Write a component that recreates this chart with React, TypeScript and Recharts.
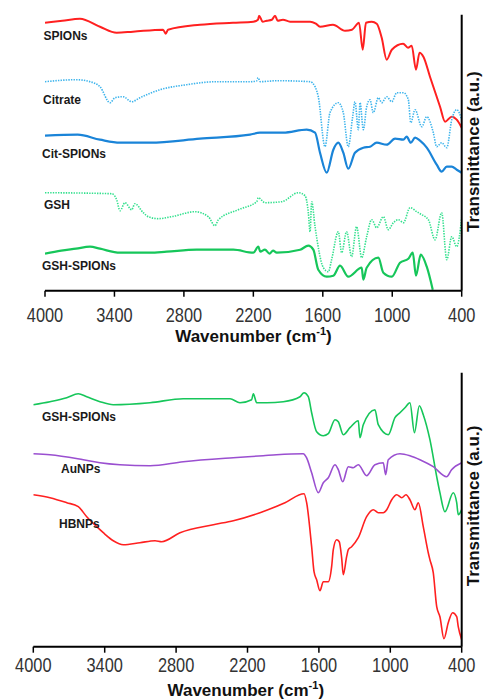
import React from 'react';
import { LineChart, Line, XAxis, YAxis } from 'recharts';

const TICKS = [4000, 3400, 2800, 2200, 1600, 1000, 400];

// Panel A
const spionsWn = [4000, 3850, 3698, 3525, 3381, 3240, 2980, 2957, 2937, 2661, 2376, 2200, 2160, 2150, 2120, 2085, 2040, 2013, 1990, 1944, 1883, 1710, 1660, 1624, 1512, 1408, 1348, 1287, 1255, 1227, 1177, 1134, 1091, 1048, 1004, 906, 864, 832, 795, 764, 731, 674, 587, 544, 486, 443, 400];
const spionsT = [268, 270, 272, 264, 258, 259, 261, 257, 261, 266, 268, 269, 271, 275, 269, 270, 271, 275, 270, 271, 269, 269, 267, 264, 266, 260, 261, 268, 241, 268, 269, 267, 253, 231, 241, 247, 243, 245, 221, 238, 234, 214, 184, 169, 174, 171, 163];

const citrateWn = [4000, 3726, 3611, 3525, 3438, 3395, 3326, 3251, 3179, 3006, 2776, 2517, 2229, 2170, 2160, 2140, 1998, 1710, 1667, 1639, 1581, 1538, 1466, 1423, 1380, 1342, 1322, 1293, 1278, 1250, 1221, 1192, 1164, 1120, 1091, 1048, 1004, 961, 904, 861, 840, 803, 745, 702, 645, 616, 573, 529, 486, 443, 400];
const citrateT = [209, 211, 209, 204, 188, 193, 194, 189, 193, 201, 206, 209, 209, 210, 213, 209, 210, 209, 204, 194, 144, 178, 188, 178, 144, 174, 189, 161, 188, 161, 184, 191, 178, 193, 188, 194, 189, 198, 198, 191, 168, 181, 164, 174, 158, 144, 148, 143, 171, 181, 171];

const citSpionsWn = [4000, 3717, 3525, 3352, 3093, 2661, 2229, 2143, 1941, 1739, 1667, 1624, 1566, 1509, 1466, 1423, 1380, 1322, 1250, 1192, 1134, 1048, 976, 904, 875, 840, 803, 760, 702, 616, 573, 529, 486, 443, 400];
const citSpionsT = [155, 156, 151, 148, 148, 152, 156, 158, 158, 161, 158, 138, 118, 141, 148, 138, 122, 138, 143, 144, 148, 146, 152, 151, 154, 148, 153, 150, 143, 126, 119, 124, 124, 121, 118];

const gshWn = [4000, 3424, 3381, 3352, 3309, 3251, 3223, 3151, 3108, 3021, 2906, 2704, 2589, 2531, 2502, 2330, 2171, 2157, 2099, 1955, 1811, 1753, 1725, 1710, 1696, 1667, 1595, 1552, 1524, 1466, 1437, 1394, 1351, 1308, 1264, 1221, 1178, 1134, 1077, 1034, 990, 947, 904, 846, 788, 745, 688, 630, 573, 529, 486, 443, 400];
const gshT = [98, 97, 91, 80, 88, 81, 87, 78, 74, 72, 74, 79, 74, 65, 71, 81, 89, 93, 88, 89, 98, 95, 78, 59, 89, 64, 23, 19, 31, 59, 38, 59, 34, 64, 33, 54, 71, 63, 74, 61, 68, 71, 68, 83, 79, 76, 71, 51, 78, 31, 54, 44, 73];

const gshSpionsAWn = [4000, 3860, 3732, 3611, 3525, 3352, 3093, 2949, 2690, 2373, 2200, 2157, 2140, 2100, 2060, 2030, 1998, 1796, 1725, 1682, 1639, 1566, 1509, 1451, 1380, 1264, 1250, 1221, 1120, 1077, 1004, 933, 861, 823, 795, 754, 702, 650];
const gshSpionsAT = [37, 40, 42, 44, 42, 38, 38, 39, 41, 41, 38, 44, 39, 41, 37, 40, 38, 41, 45, 41, 21, 14, 15, 25, 14, 23, 11, 23, 33, 18, 14, 28, 32, 38, 15, 36, 24, 1];

// Panel B
const gshSpionsBWn = [4000, 3860, 3719, 3622, 3551, 3440, 3328, 3019, 2740, 2347, 2263, 2165, 2151, 2123, 2039, 1899, 1759, 1725, 1689, 1661, 1619, 1563, 1521, 1465, 1437, 1395, 1339, 1269, 1255, 1227, 1129, 1101, 1017, 961, 919, 877, 835, 797, 756, 723, 667, 610, 583, 541, 471, 442, 429, 400];
const gshSpionsBT = [242, 245, 249, 253, 250, 245, 242, 244, 248, 248, 244, 247, 253, 244, 244, 245, 250, 254, 250, 234, 215, 211, 213, 227, 225, 212, 219, 226, 209, 222, 237, 222, 212, 229, 234, 239, 244, 214, 241, 232, 207, 170, 154, 135, 154, 144, 132, 137];

const auNpsWn = [4000, 3860, 3580, 3440, 3272, 3019, 2740, 2320, 2068, 1956, 1732, 1704, 1661, 1605, 1563, 1521, 1465, 1437, 1400, 1353, 1311, 1269, 1199, 1129, 1059, 1039, 1017, 919, 835, 751, 639, 527, 485, 400];
const auNpsT = [193, 192, 187, 184, 182, 181, 185, 189, 191, 192, 193, 189, 174, 154, 164, 169, 182, 177, 165, 180, 179, 182, 171, 182, 184, 172, 187, 193, 191, 187, 180, 170, 177, 184];

const hbnpsWn = [4000, 3860, 3719, 3622, 3551, 3467, 3412, 3328, 3244, 3104, 2977, 2921, 2767, 2487, 2319, 2095, 1885, 1725, 1703, 1661, 1641, 1619, 1591, 1563, 1521, 1493, 1479, 1451, 1429, 1409, 1395, 1367, 1353, 1325, 1269, 1199, 1143, 1101, 1059, 1030, 988, 946, 904, 868, 835, 793, 765, 723, 681, 667, 639, 610, 583, 549, 513, 476, 442, 429, 400];
const hbnpsT = [152, 149, 144, 140, 130, 120, 114, 106, 102, 104, 106, 105, 114, 122, 126, 134, 144, 153, 144, 100, 75, 67, 56, 65, 65, 80, 97, 107, 105, 89, 72, 90, 97, 100, 109, 130, 137, 134, 134, 137, 147, 152, 149, 152, 147, 137, 144, 120, 94, 87, 74, 40, 30, 8, 24, 34, 30, 20, 7];

const toData = (wn: number[], t: number[]) => wn.map((w, i) => ({ w, t: t[i] }));

const FONT = 'Liberation Sans, Arial, sans-serif';

const Tick = (props: any) => {
  const { x, y, payload } = props;
  return (
    <g transform={`translate(${x},${y})`}>
      <text x={0} y={0} dy="0.71em" textAnchor="middle" fontSize={20} fill="#333" fontFamily={FONT} transform="scale(0.82,1)">
        {payload.value}
      </text>
    </g>
  );
};

type S = { wn: number[]; t: number[]; color: string; width: number; dash?: string };

const panelA: S[] = [
  { wn: spionsWn, t: spionsT, color: '#ff2020', width: 2 },
  { wn: citrateWn, t: citrateT, color: '#3db4ec', width: 1.6, dash: '1.4 1.2' },
  { wn: citSpionsWn, t: citSpionsT, color: '#1a84d8', width: 2.2 },
  { wn: gshWn, t: gshT, color: '#33e08e', width: 1.6, dash: '1.4 1.2' },
  { wn: gshSpionsAWn, t: gshSpionsAT, color: '#16c65a', width: 2.2 },
];

const panelB: S[] = [
  { wn: gshSpionsBWn, t: gshSpionsBT, color: '#16c65a', width: 1.6 },
  { wn: auNpsWn, t: auNpsT, color: '#9a4fd0', width: 1.6 },
  { wn: hbnpsWn, t: hbnpsT, color: '#ff2020', width: 1.6 },
];

function Panel({ series, margin, yMax, tickMargin }: { series: S[]; margin: any; yMax: number; tickMargin: number }) {
  return (
    <LineChart width={483} height={350} margin={margin}>
      <XAxis
        dataKey="w"
        type="number"
        domain={[400, 4000]}
        reversed
        ticks={TICKS}
        allowDataOverflow
        height={40}
        axisLine={{ stroke: '#000', strokeWidth: 2 }}
        tickLine={{ stroke: '#000', strokeWidth: 1.5 }}
        tickSize={6}
        tickMargin={tickMargin}
        tick={<Tick />}
        interval={0}
      />
      <YAxis
        orientation="right"
        type="number"
        domain={[0, yMax]}
        allowDataOverflow
        width={21.3}
        tick={false}
        tickLine={false}
        axisLine={{ stroke: '#000', strokeWidth: 2 }}
      />
      {series.map((s, i) => (
        <Line
          key={i}
          data={toData(s.wn, s.t)}
          dataKey="t"
          type="monotone"
          stroke={s.color}
          strokeWidth={s.width}
          strokeDasharray={s.dash}
          strokeLinejoin="round"
          dot={false}
          activeDot={false}
          isAnimationActive={false}
        />
      ))}
    </LineChart>
  );
}

const labelsA = [
  { text: 'SPIONs', x: 43.5, y: 39.6 },
  { text: 'Citrate', x: 43, y: 103.8 },
  { text: 'Cit-SPIONs', x: 42, y: 157.6 },
  { text: 'GSH', x: 44, y: 209.1 },
  { text: 'GSH-SPIONs', x: 42, y: 270.1 },
];
const labelsB = [
  { text: 'GSH-SPIONs', x: 42, y: 421 },
  { text: 'AuNPs', x: 61, y: 473.1 },
  { text: 'HBNPs', x: 59, y: 528.1 },
];

export default function App() {
  return (
    <div style={{ position: 'absolute', left: 0, top: 0, width: 483, height: 700, background: '#fff', overflow: 'hidden' }}>
      <div style={{ position: 'absolute', left: 0, top: 0 }}>
        <Panel series={panelA} margin={{ top: 14.7, right: 0, left: 45, bottom: 19.3 }} yMax={276} tickMargin={10.6} />
      </div>
      <div style={{ position: 'absolute', left: 0, top: 350 }}>
        <Panel series={panelB} margin={{ top: 22.7, right: 0, left: 33.3, bottom: 13.3 }} yMax={274} tickMargin={5} />
      </div>
      <svg width={483} height={700} style={{ position: 'absolute', left: 0, top: 0, pointerEvents: 'none' }}>
        {[...labelsA, ...labelsB].map((l, i) => (
          <text key={i} x={l.x} y={l.y} fontSize={12} fontWeight="bold" fill="#1a1a1a" fontFamily={FONT}>
            {l.text}
          </text>
        ))}
        <text x={253.5} y={341.5} textAnchor="middle" fontSize={17} fontWeight="bold" fill="#111" fontFamily={FONT}>
          Wavenumber (cm<tspan fontSize={11} dy={-7}>-1</tspan><tspan dy={7}>)</tspan>
        </text>
        <text x={245.8} y={695.5} textAnchor="middle" fontSize={17} fontWeight="bold" fill="#111" fontFamily={FONT}>
          Wavenumber (cm<tspan fontSize={11} dy={-7}>-1</tspan><tspan dy={7}>)</tspan>
        </text>
        <text transform="translate(478.5,151.7) rotate(-90)" textAnchor="middle" fontSize={17} fontWeight="bold" fill="#111" fontFamily={FONT}>
          Transmittance (a.u.)
        </text>
        <text transform="translate(478.5,506) rotate(-90)" textAnchor="middle" fontSize={17} fontWeight="bold" fill="#111" fontFamily={FONT}>
          Transmittance (a.u.)
        </text>
      </svg>
    </div>
  );
}
